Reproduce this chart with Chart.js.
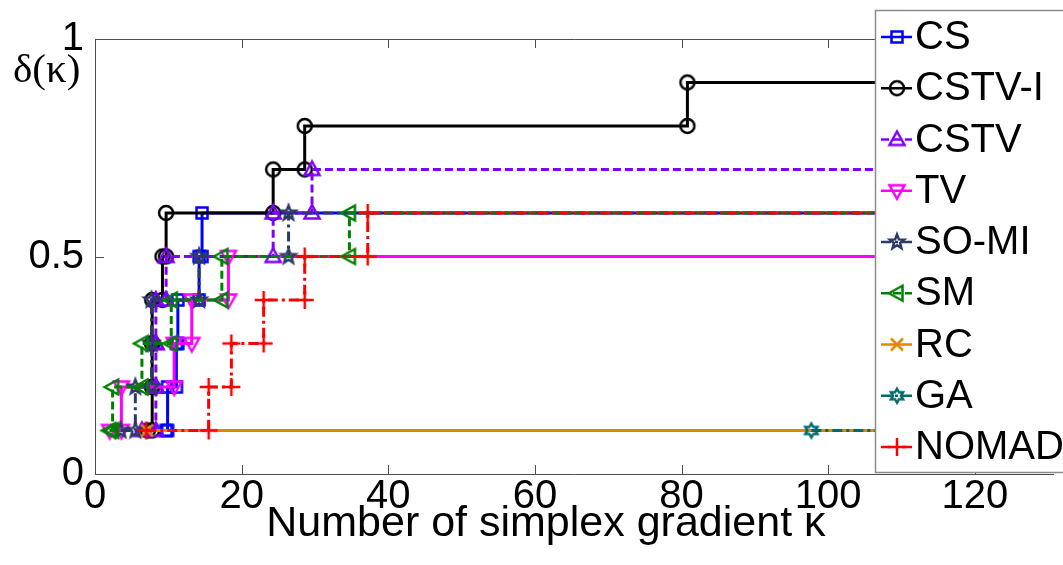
<!DOCTYPE html>
<html>
<head>
<meta charset="utf-8">
<script src="https://cdn.jsdelivr.net/npm/chart.js@4.4.1/dist/chart.umd.min.js"></script>
<style>
  html, body { margin: 0; padding: 0; background: #fff; overflow: hidden; }
  #wrap { width: 1063px; height: 565px; position: relative; }
</style>
</head>
<body>
<div id="wrap"><canvas id="profile"></canvas></div>
<script>
const seriesNames = ["CS", "CSTV-I", "CSTV", "TV", "SO-MI", "SM", "RC", "GA", "NOMAD"];
const deltaLevels = [0.1, 0.2, 0.3, 0.4, 0.5, 0.6, 0.7, 0.8, 0.9];

// kappa at which each solver reaches delta = 0.1, 0.2, ...
const csSteps = [9.7, 9.9, 11.1, 11.3, 14.2, 14.6];
const cstvISteps = [7.2, 7.8, 7.8, 7.8, 9.2, 9.7, 24.3, 28.6, 80.8];
const cstvSteps = [6.4, 8.3, 8.3, 8.3, 9.7, 24.3, 29.6];
const tvSteps = [2.0, 3.6, 10.8, 13.2, 18.2];
const somiSteps = [3.5, 5.5, 7.7, 7.7, 14.2, 26.4];
const smSteps = [2.0, 2.4, 6.4, 10.4, 17.3, 34.7];
const rcSteps = [7.1];
const gaSteps = [97.7];
const nomadSteps = [7.0, 15.5, 18.6, 23.0, 28.6, 37.2];
const kEnd = 140;

const xTicks = [0, 20, 40, 60, 80, 100, 120];
const yTicks = [0, 0.5, 1];

const allSteps = [csSteps, cstvISteps, cstvSteps, tvSteps, somiSteps, smSteps, rcSteps, gaSteps, nomadSteps];

const DASHED = [8, 4];
const DASHDOT = [10, 4, 3, 4];
const seriesStyles = [
  { color: "#0000ff", dash: [], marker: "square" },
  { color: "#000000", dash: [], marker: "circle" },
  { color: "#8000ff", dash: DASHED, marker: "triUp" },
  { color: "#ff00ff", dash: [], marker: "triDown" },
  { color: "#2c3a68", dash: DASHDOT, marker: "pentagram" },
  { color: "#008000", dash: DASHED, marker: "triLeft" },
  { color: "#e08600", dash: [], marker: "cross" },
  { color: "#006b6b", dash: DASHDOT, marker: "hexagram" },
  { color: "#ff0000", dash: DASHDOT, marker: "plus" },
];

function starPath(ctx, n, outer, inner) {
  ctx.beginPath();
  for (let i = 0; i < n * 2; i++) {
    const r = i % 2 === 0 ? outer : inner;
    const a = -Math.PI / 2 + (i * Math.PI) / n;
    const px = r * Math.cos(a), py = r * Math.sin(a);
    if (i === 0) ctx.moveTo(px, py); else ctx.lineTo(px, py);
  }
  ctx.closePath();
}

function makeMarker(shape, color) {
  const c = document.createElement("canvas");
  c.width = 24; c.height = 24;
  const g = c.getContext("2d");
  g.translate(12, 12);
  g.strokeStyle = color;
  g.lineWidth = 2.5;
  g.beginPath();
  if (shape === "square") {
    g.rect(-5.5, -5.5, 11, 11);
  } else if (shape === "circle") {
    g.arc(0, 0, 7, 0, Math.PI * 2);
  } else if (shape === "triUp") {
    g.moveTo(0, -8); g.lineTo(7.5, 5.5); g.lineTo(-7.5, 5.5); g.closePath();
  } else if (shape === "triDown") {
    g.moveTo(0, 8); g.lineTo(7.5, -5.5); g.lineTo(-7.5, -5.5); g.closePath();
  } else if (shape === "triLeft") {
    g.moveTo(-8, 0); g.lineTo(5.5, -7.5); g.lineTo(5.5, 7.5); g.closePath();
  } else if (shape === "pentagram") {
    starPath(g, 5, 7.5, 3.2);
  } else if (shape === "hexagram") {
    starPath(g, 6, 7, 4);
  } else if (shape === "cross") {
    g.moveTo(-6, -6); g.lineTo(6, 6); g.moveTo(6, -6); g.lineTo(-6, 6);
  } else if (shape === "plus") {
    g.moveTo(-9, 0); g.lineTo(9, 0); g.moveTo(0, -9); g.lineTo(0, 9);
  }
  g.stroke();
  return c;
}

const markers = seriesStyles.map((s) => makeMarker(s.marker, s.color));

// corner points of each step, so a marker sits at both ends of a jump
function stepPoints(steps) {
  const pts = [];
  steps.forEach((k, i) => {
    if (i > 0) pts.push({ x: k, y: deltaLevels[i - 1] });
    pts.push({ x: k, y: deltaLevels[i] });
  });
  pts.push({ x: kEnd, y: deltaLevels[steps.length - 1] });
  return pts;
}

const datasets = seriesNames.map((name, i) => {
  const pts = stepPoints(allSteps[i]);
  return {
    label: name,
    data: pts,
    showLine: true,
    borderColor: seriesStyles[i].color,
    borderWidth: 3,
    borderDash: seriesStyles[i].dash,
    pointStyle: markers[i],
    pointRadius: (c) => (c.dataIndex === pts.length - 1 ? 0 : 6),
    pointBackgroundColor: "transparent",
    pointBorderColor: seriesStyles[i].color,
    order: seriesNames.length - i,
  };
});

const SANS = "'Liberation Sans', Arial, sans-serif";

const frame = {
  id: "frame",
  beforeDatasetsDraw(chart) {
    const { ctx, chartArea: a, scales: { x, y } } = chart;
    ctx.save();
    ctx.strokeStyle = "#4d4d4d";
    ctx.lineWidth = 1;
    ctx.beginPath();
    ctx.moveTo(a.left + 0.5, a.bottom + 0.5);
    ctx.lineTo(a.left + 0.5, a.top + 0.5);
    ctx.lineTo(a.right, a.top + 0.5);
    ctx.moveTo(a.left, a.bottom + 0.5);
    ctx.lineTo(a.right, a.bottom + 0.5);
    xTicks.forEach((v) => {
      const px = Math.round(x.getPixelForValue(v)) + 0.5;
      ctx.moveTo(px, a.bottom); ctx.lineTo(px, a.bottom - 9);
      ctx.moveTo(px, a.top); ctx.lineTo(px, a.top + 9);
    });
    yTicks.forEach((v) => {
      const py = Math.round(y.getPixelForValue(v)) + 0.5;
      ctx.moveTo(a.left, py); ctx.lineTo(a.left + 9, py);
    });
    ctx.stroke();
    ctx.restore();
  },
  afterDraw(chart) {
    const { ctx, scales: { x, y } } = chart;
    ctx.save();
    ctx.fillStyle = "#000";
    ctx.textBaseline = "middle";
    ctx.textAlign = "center";
    ctx.font = "43px " + SANS;
    ctx.fillText("Number of simplex gradient \u03ba", x.getPixelForValue(61.5), 524);
    ctx.textAlign = "left";
    ctx.font = "41px 'Liberation Serif', 'DejaVu Serif', serif";
    ctx.fillText("\u03b4(\u03ba)", 13, y.getPixelForValue(0.925));

    // legend box
    const bx = 875.5, by = 10.5, bw = 200, bh = 462;
    ctx.fillStyle = "#fff";
    ctx.fillRect(bx, by, bw, bh);
    ctx.strokeStyle = "#8c8c8c";
    ctx.lineWidth = 1.5;
    ctx.strokeRect(bx, by, bw, bh);
    ctx.font = "40px " + SANS;
    seriesNames.forEach((name, i) => {
      const yc = 37 + i * 51.25;
      ctx.save();
      ctx.strokeStyle = seriesStyles[i].color;
      ctx.lineWidth = 2.5;
      ctx.setLineDash(seriesStyles[i].dash);
      ctx.beginPath();
      ctx.moveTo(881, yc); ctx.lineTo(912, yc);
      ctx.stroke();
      ctx.restore();
      ctx.drawImage(markers[i], 897 - 12, yc - 12);
      ctx.fillStyle = "#000";
      ctx.fillText(name, 915, yc + 1);
    });
    ctx.restore();
  },
};

new Chart(document.getElementById("profile"), {
  type: "scatter",
  data: { datasets },
  plugins: [frame],
  options: {
    responsive: true,
    maintainAspectRatio: false,
    animation: false,
    layout: { padding: { top: 39, right: 0, left: 0, bottom: 0 } },
    plugins: { legend: { display: false }, tooltip: { enabled: false } },
    scales: {
      x: {
        type: "linear",
        min: 0,
        max: 130.8,
        afterBuildTicks: (s) => { s.ticks = xTicks.map((v) => ({ value: v })); },
        afterFit: (s) => { s.height = 91; },
        grid: { display: false },
        border: { display: false },
        ticks: { color: "#000", font: { family: SANS, size: 40, lineHeight: 0.6 }, padding: 3, maxRotation: 0, callback: (v) => String(v) },
      },
      y: {
        type: "linear",
        min: 0,
        max: 1,
        afterBuildTicks: (s) => { s.ticks = yTicks.map((v) => ({ value: v })); },
        afterFit: (s) => { s.width = 95; },
        grid: { display: false },
        border: { display: false },
        ticks: { color: "#000", font: { family: SANS, size: 40 }, padding: 3, callback: (v) => String(v) },
      },
    },
  },
});
</script>
</body>
</html>
